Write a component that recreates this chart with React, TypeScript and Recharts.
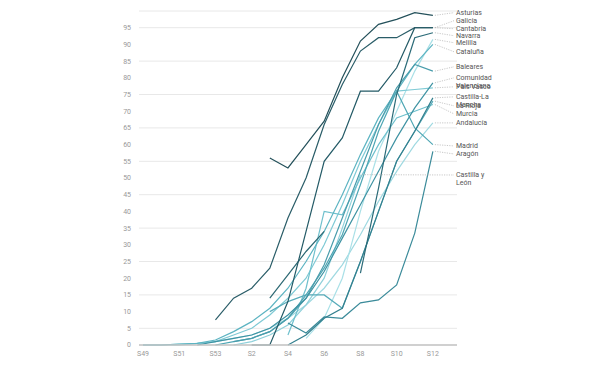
import { CartesianGrid, LabelList, Line, LineChart, XAxis, YAxis } from "recharts";

const WEEKS = ["S49", "S50", "S51", "S52", "S53", "S1", "S2", "S3", "S4", "S5", "S6", "S7", "S8", "S9", "S10", "S11", "S12", "S13"];
const Y_TICKS = [0, 5, 10, 15, 20, 25, 30, 35, 40, 45, 50, 55, 60, 65, 70, 75, 80, 85, 90, 95];

const n = null;
// one value per week, S49 .. S13
const asturias = [n, n, n, n, n, n, n, 56, 53, 60, 67, 80, 91, 96, 97.5, 99.5, 98.7, n];
const galicia = [n, n, n, n, 7.5, 14, 17, 23, 38, 50, 66, 78, 88, 92, 92, 95, 95, n];
const cantabria = [n, n, n, n, n, n, 0, 0, 13, 34, 55, 62, 76, 76, 83, 95, 95, n];
const navarra = [n, n, n, n, n, n, n, n, n, n, n, n, 21.5, 47, 75, 92, 93.5, n];
const melilla = [n, n, n, n, n, n, n, n, n, 2, 8, 20, 40, 58, 70, 82, 91.5, n];
const cataluna = [0, 0, 0.3, 0.5, 1.5, 4, 7, 11, 17, 25, 34, 45, 57, 68, 76, 84, 90, n];
const baleares = [n, n, n, n, n, 1, 2, 4, 8, 14, 24, 38, 52, 66, 77, 84, 82, n];
const valenciana = [n, n, n, 0, 1, 2, 3, 5, 9, 14, 22, 32, 42, 52, 62, 71, 78.5, n];
const paisVasco = [0, 0, 0, 0.5, 1, 3, 5, 9, 14, 20, 30, 42, 55, 66, 76, 76.5, 77, n];
const castillaMancha = [n, n, n, n, n, n, n, n, 0, 3, 8, 11, 25, 40, 55, 64, 74, n];
const laRioja = [n, n, n, n, n, n, n, 10, 13, 15, 15, 11, 25, 40, 55, 64, 73, n];
const murcia = [n, n, n, n, n, n, n, n, 3, 17, 40, 39, 50, 60, 68, 70, 72, n];
const andalucia = [0, 0, 0.3, 0.5, 1, 2, 3, 5, 8, 12, 17, 24, 33, 43, 52, 60, 66.5, n];
const madrid = [n, n, n, n, 0, 1, 2, 4, 8, 15, 23, 33, 48, 64, 76, 65, 60, n];
const aragon = [n, n, n, n, n, n, n, n, 6.6, 3.6, 8.4, 8, 12.6, 13.5, 18, 33.5, 58, n];
const castillaLeon = [n, n, n, n, n, 0, 1, 3, 6, 12, 20, 35, 51, n, n, n, n, n];
const otra = [n, n, n, n, n, n, n, 14, 21, 28, 34, n, n, n, n, n, n, n];

const SERIES = [
  { key: "andalucia", name: "Andalucía", values: andalucia, color: "#9fd9e1", labelAt: 66.5 },
  { key: "castillaLeon", name: "Castilla y\nLeón", values: castillaLeon, color: "#8fd0da", labelAt: 50.9 },
  { key: "melilla", name: "Melilla", values: melilla, color: "#a9e0e7", labelAt: 90.5 },
  { key: "paisVasco", name: "País Vasco", values: paisVasco, color: "#7fcad5", labelAt: 77.3 },
  { key: "murcia", name: "Murcia", values: murcia, color: "#6fc0cd", labelAt: 69.2 },
  { key: "cataluna", name: "Cataluña", values: cataluna, color: "#5db4c2", labelAt: 87.8 },
  { key: "laRioja", name: "La Rioja", values: laRioja, color: "#57abb9", labelAt: 71.6 },
  { key: "madrid", name: "Madrid", values: madrid, color: "#4ea6b4", labelAt: 59.6 },
  { key: "baleares", name: "Baleares", values: baleares, color: "#4a9dac", labelAt: 83.3 },
  { key: "valenciana", name: "Comunidad\nValenciana", values: valenciana, color: "#3f93a3", labelAt: 80.0 },
  { key: "aragon", name: "Aragón", values: aragon, color: "#3b8b9a", labelAt: 57.2 },
  { key: "castillaMancha", name: "Castilla-La\nMancha", values: castillaMancha, color: "#34808f", labelAt: 74.3 },
  { key: "otra", name: "", values: otra, color: "#2c6873", labelAt: null },
  { key: "navarra", name: "Navarra", values: navarra, color: "#2b6b78", labelAt: 92.6 },
  { key: "cantabria", name: "Cantabria", values: cantabria, color: "#235a66", labelAt: 94.7 },
  { key: "galicia", name: "Galicia", values: galicia, color: "#2a5d68", labelAt: 97.1 },
  { key: "asturias", name: "Asturias", values: asturias, color: "#23505a", labelAt: 99.5 },
];

const W = 616;
const H = 368;
const MARGIN = { top: 11, right: 159, bottom: 0, left: 102 };
const X_AXIS_H = 23;
const PX_PER_UNIT = (H - MARGIN.top - MARGIN.bottom - X_AXIS_H) / 100;
const LABEL_X = W - MARGIN.right - 1;

const rows = WEEKS.map((week, i) => {
  const row: Record<string, string | number | null> = { week };
  SERIES.forEach((s) => {
    row[s.key] = s.values[i];
  });
  return row;
});

function lastIndex(values: (number | null)[]) {
  for (let i = values.length - 1; i >= 0; i--) if (values[i] != null) return i;
  return -1;
}

function makeEndLabel(name: string, labelAt: number, last: number) {
  return (props: any) => {
    const { x, y, value, index } = props;
    if (index !== last || x == null || y == null || value == null) return null;
    const ly = y + (Number(value) - labelAt) * PX_PER_UNIT;
    const parts = name.split("\n");
    return (
      <g>
        <line x1={x + 2} y1={y} x2={LABEL_X - 2} y2={ly} stroke="#b0b0b0" strokeWidth={0.7} strokeDasharray="1.2 1.2" />
        <text x={LABEL_X} y={ly} fontSize={7} fill="#555" fontFamily="Roboto, sans-serif">
          {parts.map((p, i) => (
            <tspan key={i} x={LABEL_X} dy={i === 0 ? 2.5 : 8}>
              {p}
            </tspan>
          ))}
        </text>
      </g>
    );
  };
}

export default function App() {
  return (
    <div style={{ position: "absolute", left: 0, top: 0, width: W, height: H, background: "#fff" }}>
      <LineChart width={W} height={H} data={rows} margin={MARGIN}>
        <CartesianGrid vertical={false} stroke="#e8e8e8" />
        <XAxis
          dataKey="week"
          interval={1}
          height={X_AXIS_H}
          padding={{ left: 4, right: 6 }}
          tickLine={false}
          tickMargin={0}
          axisLine={{ stroke: "#c4c4c4", strokeWidth: 1.5 }}
          tick={{ fontSize: 7, fill: "#999", fontFamily: "Roboto, sans-serif" }}
        />
        <YAxis
          domain={[0, 100]}
          ticks={Y_TICKS}
          width={37}
          axisLine={false}
          tickLine={false}
          tick={{ fontSize: 7, fill: "#999", fontFamily: "Roboto, sans-serif" }}
        />
        {SERIES.map((s) => (
          <Line
            key={s.key}
            type="linear"
            dataKey={s.key}
            stroke={s.color}
            strokeWidth={1.2}
            dot={false}
            activeDot={false}
            isAnimationActive={false}
          >
            {s.labelAt != null && (
              <LabelList dataKey={s.key} content={makeEndLabel(s.name, s.labelAt, lastIndex(s.values))} />
            )}
          </Line>
        ))}
      </LineChart>
    </div>
  );
}
